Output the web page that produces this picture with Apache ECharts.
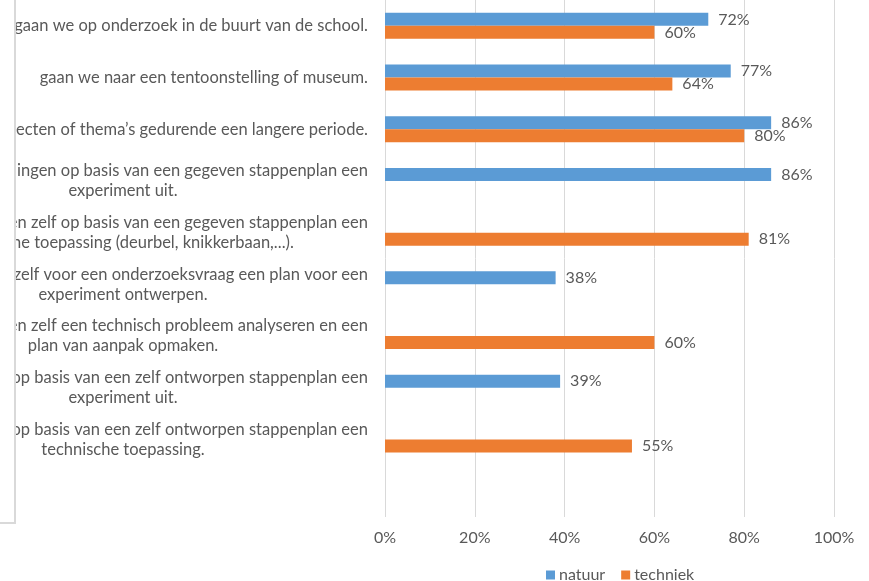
<!DOCTYPE html>
<html>
<head>
<meta charset="utf-8">
<script src="https://cdn.jsdelivr.net/npm/echarts@6/dist/echarts.min.js"></script>
<style>
  html, body { margin: 0; padding: 0; background: #fff; }
  #chart { width: 869px; height: 581px; }
</style>
</head>
<body>
<div id="chart"></div>
<script>
// categories (left part of the labels is hidden behind a box in the original)
const categories = [
  'gaan we op onderzoek in de buurt van de school.',
  'gaan we naar een tentoonstelling of museum.',
  'ecten of thema’s gedurende een langere periode.',
  'llingen op basis van een gegeven stappenplan een\nexperiment uit.',
  'en zelf op basis van een gegeven stappenplan een\ntechnische toepassing (deurbel, knikkerbaan,...).',
  'zelf voor een onderzoeksvraag een plan voor een\nexperiment ontwerpen.',
  'en zelf een technisch probleem analyseren en een\nplan van aanpak opmaken.',
  'op basis van een zelf ontworpen stappenplan een\nexperiment uit.',
  'op basis van een zelf ontworpen stappenplan een\ntechnische toepassing.',
  ''
]
const natuur = [72, 77, 86, 86, null, 38, null, 39, null, null]
const techniek = [60, 64, 80, null, 81, null, 60, null, 55, null]
const xTicks = [0, 20, 40, 60, 80, 100]

const textColor = '#595959'
const font = 'Lato'
const fs = 16
const catFs = 16.5

const chart = echarts.init(document.getElementById('chart'))
chart.setOption({
  animation: false,
  color: ['#5B9BD5', '#ED7D31'],
  textStyle: { fontFamily: font },
  grid: { left: 385, right: 35, top: 0, bottom: 64, outerBoundsMode: 'none', containLabel: false },
  legend: {
    data: ['natuur', 'techniek'],
    left: 541,
    top: 562,
    icon: 'rect',
    itemWidth: 9,
    itemHeight: 9,
    itemGap: 16,
    textStyle: { color: textColor, fontSize: fs, fontFamily: font, padding: [0, 0, 0, -1] }
  },
  xAxis: {
    type: 'value',
    min: xTicks[0],
    max: xTicks[xTicks.length - 1],
    interval: 20,
    axisLine: { show: false },
    axisTick: { show: false },
    axisLabel: { formatter: '{value}%', color: textColor, fontSize: fs, margin: 13, fontFamily: font },
    splitLine: { show: true, lineStyle: { color: '#d9d9d9', width: 1 } }
  },
  yAxis: {
    type: 'category',
    inverse: true,
    data: categories,
    axisLine: { show: false },
    axisTick: { show: false },
    axisLabel: {
      margin: 17,
      color: textColor,
      fontSize: catFs,
      fontFamily: font,
      lineHeight: 20,
      formatter: function (value) {
        const lines = value.split('\n')
        if (lines.length < 2) return value
        return '{a|' + lines[0] + '}\n{b|' + lines[1] + '}'
      },
      rich: {
        a: { align: 'right', color: textColor, fontSize: catFs, fontFamily: font, lineHeight: 20 },
        b: { align: 'center', width: 490, color: textColor, fontSize: catFs, fontFamily: font, lineHeight: 20 }
      }
    }
  },
  series: [
    {
      name: 'natuur',
      type: 'bar',
      data: natuur,
      barWidth: 13,
      barGap: '0%',
      label: { show: true, position: 'right', distance: 10, formatter: '{c}%', color: textColor, fontSize: fs, fontFamily: font }
    },
    {
      name: 'techniek',
      type: 'bar',
      data: techniek,
      barWidth: 13,
      barGap: '0%',
      label: { show: true, position: 'right', distance: 10, formatter: '{c}%', color: textColor, fontSize: fs, fontFamily: font }
    }
  ],
  graphic: [
    {
      type: 'rect',
      z: 100,
      shape: { x: -10, y: -10, width: 25, height: 533 },
      style: { fill: '#fff', stroke: '#d9d9d9', lineWidth: 2 }
    }
  ]
})
</script>
</body>
</html>
